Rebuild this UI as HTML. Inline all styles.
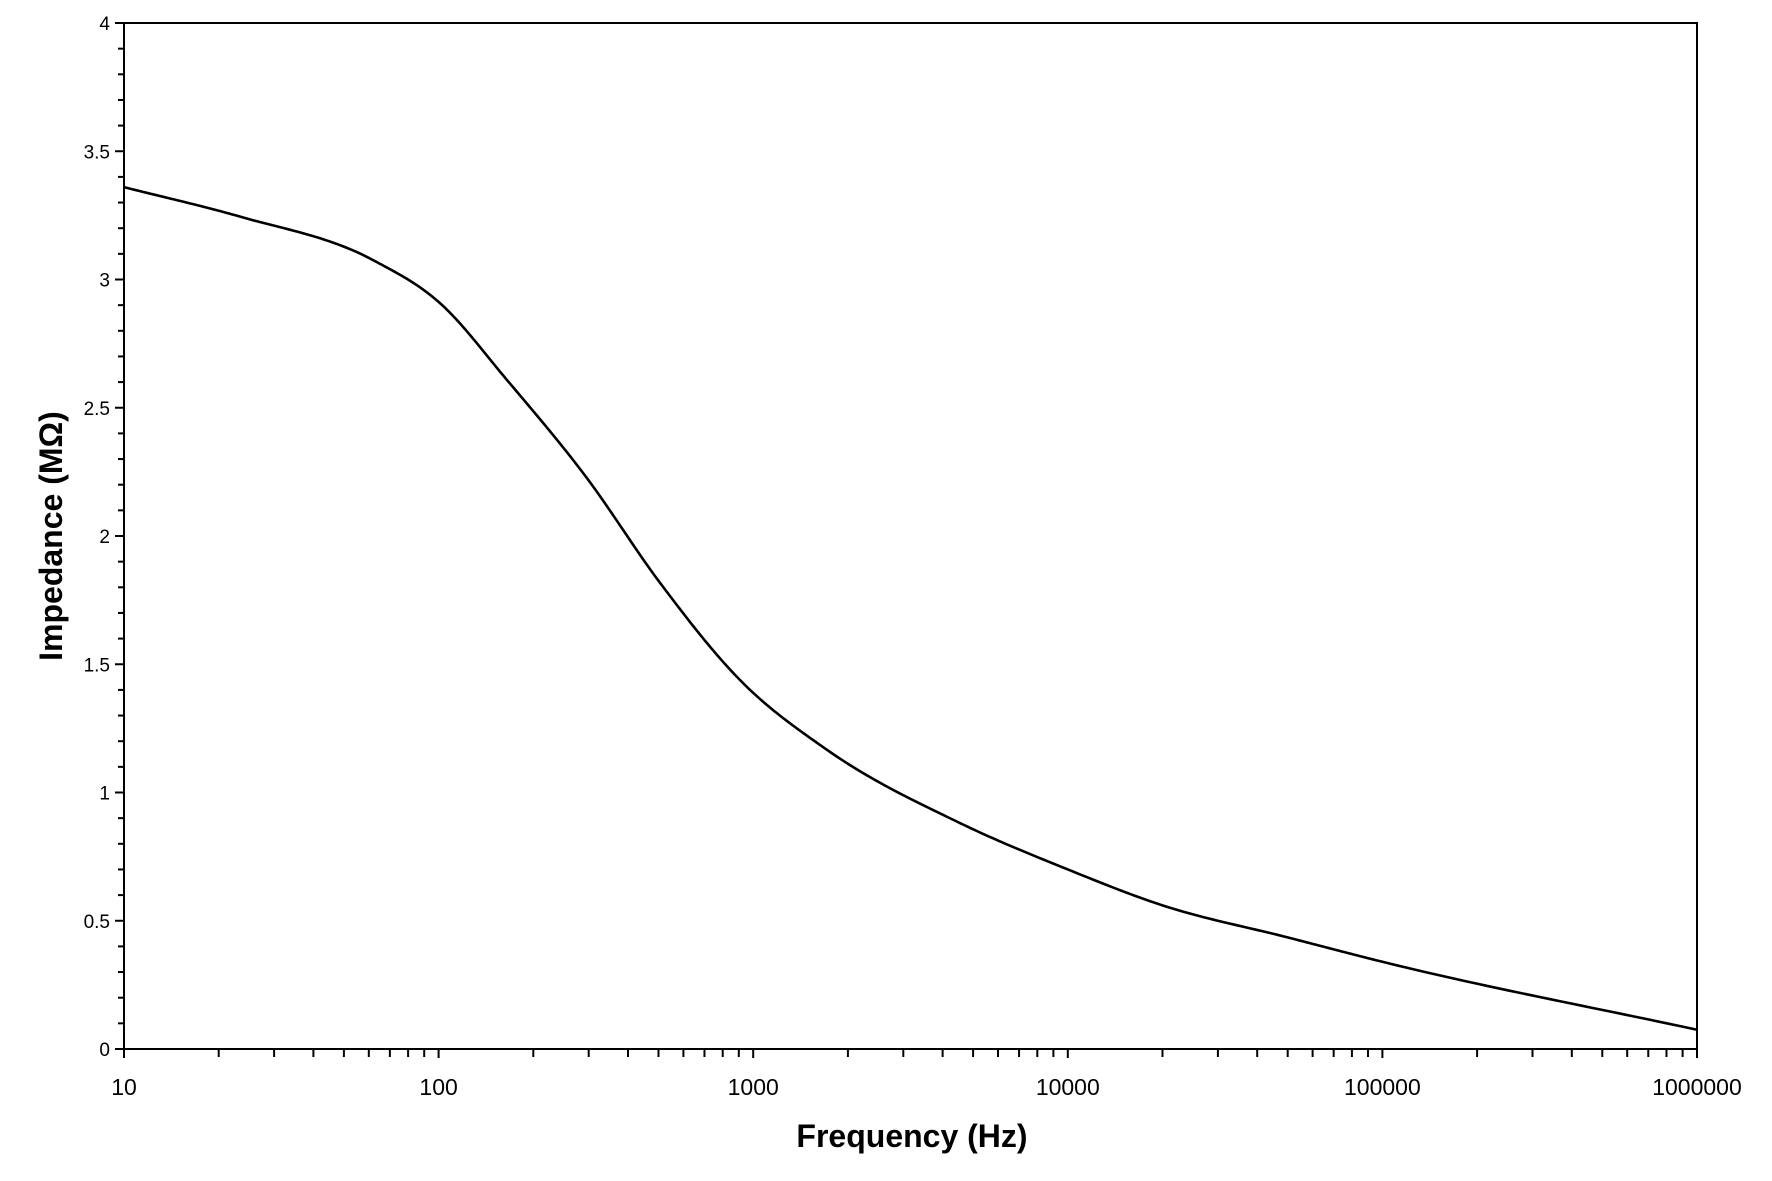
<!DOCTYPE html>
<html><head><meta charset="utf-8"><style>
html,body{margin:0;padding:0;background:#fff;}
svg{display:block;}
text{font-family:"Liberation Sans",sans-serif;fill:#000;}
</style></head><body>
<svg id="s" width="1772" height="1181" viewBox="0 0 1772 1181" xmlns="http://www.w3.org/2000/svg">
<rect x="0" y="0" width="1772" height="1181" fill="#fff"/>
<g id="ticks" stroke="#000" stroke-width="2"></g>
<rect x="124" y="23" width="1573" height="1026" fill="none" stroke="#000" stroke-width="2"/>
<path id="curve" fill="none" stroke="#000" stroke-width="2.6" stroke-linejoin="round"/>
<g id="labels"></g>
<text x="912" y="1147" font-size="32" font-weight="bold" text-anchor="middle">Frequency (Hz)</text>
<text transform="translate(62,536) rotate(-90)" font-size="32" font-weight="bold" text-anchor="middle">Impedance (MΩ)</text>
</svg>
<script>
var L=124,R=1697,T=23,B=1049,dec=(R-L)/5,uy=(B-T)/4;
function X(f){return L+(Math.log10(f)-1)*dec;}
function Y(v){return B-v*uy;}
var t='',lb='';
for(var i=0;i<=40;i++){var y=Y(i/10);var len=(i%5==0)?9:6;t+='<line x1="'+(L-len)+'" y1="'+y+'" x2="'+L+'" y2="'+y+'"/>';}
for(var i=0;i<=8;i++){var v=i/2;lb+='<text font-size="19" x="'+(L-14)+'" y="'+(Y(v)+7)+'" text-anchor="end">'+v+'</text>';}
for(var d=1;d<=6;d++){for(var m=1;m<=9;m++){if(d==6&&m>1)break;var x=X(m*Math.pow(10,d));var len=m==1?9:8;t+='<line x1="'+x+'" y1="'+B+'" x2="'+x+'" y2="'+(B+len)+'"/>';}
lb+='<text font-size="23" x="'+X(Math.pow(10,d))+'" y="'+(B+46)+'" text-anchor="middle">'+Math.pow(10,d)+'</text>';}
document.getElementById('ticks').innerHTML=t;document.getElementById('labels').innerHTML=lb;
var pts=[[10,3.36],[23.4,3.245],[61.8,3.076],[101,2.908],[165,2.608],[296,2.226],[506,1.817],[907,1.439],[1718,1.166],[4540,0.881],[10000,0.7],[20000,0.56],[50000,0.435],[100000,0.34],[1000000,0.075]];
var xs=pts.map(function(p){return Math.log10(p[0]);}),ys=pts.map(function(p){return p[1];});
var n=xs.length,dl=[],m=[];
for(var i=0;i<n-1;i++)dl.push((ys[i+1]-ys[i])/(xs[i+1]-xs[i]));
m[0]=dl[0];m[n-1]=dl[n-2];
for(var i=1;i<n-1;i++){var h0=xs[i]-xs[i-1],h1=xs[i+1]-xs[i];m[i]=(dl[i-1]*h1+dl[i]*h0)/(h0+h1);}
var d='';
for(var i=0;i<n-1;i++){var h=xs[i+1]-xs[i];
for(var k=0;k<=30;k++){var s=k/30,x=xs[i]+s*h;
var h00=2*s*s*s-3*s*s+1,h10=s*s*s-2*s*s+s,h01=-2*s*s*s+3*s*s,h11=s*s*s-s*s;
var y=h00*ys[i]+h10*h*m[i]+h01*ys[i+1]+h11*h*m[i+1];
d+=(d?' L':'M')+X(Math.pow(10,x)).toFixed(2)+' '+Y(y).toFixed(2);}}
document.getElementById('curve').setAttribute('d',d);
</script>
</body></html>
